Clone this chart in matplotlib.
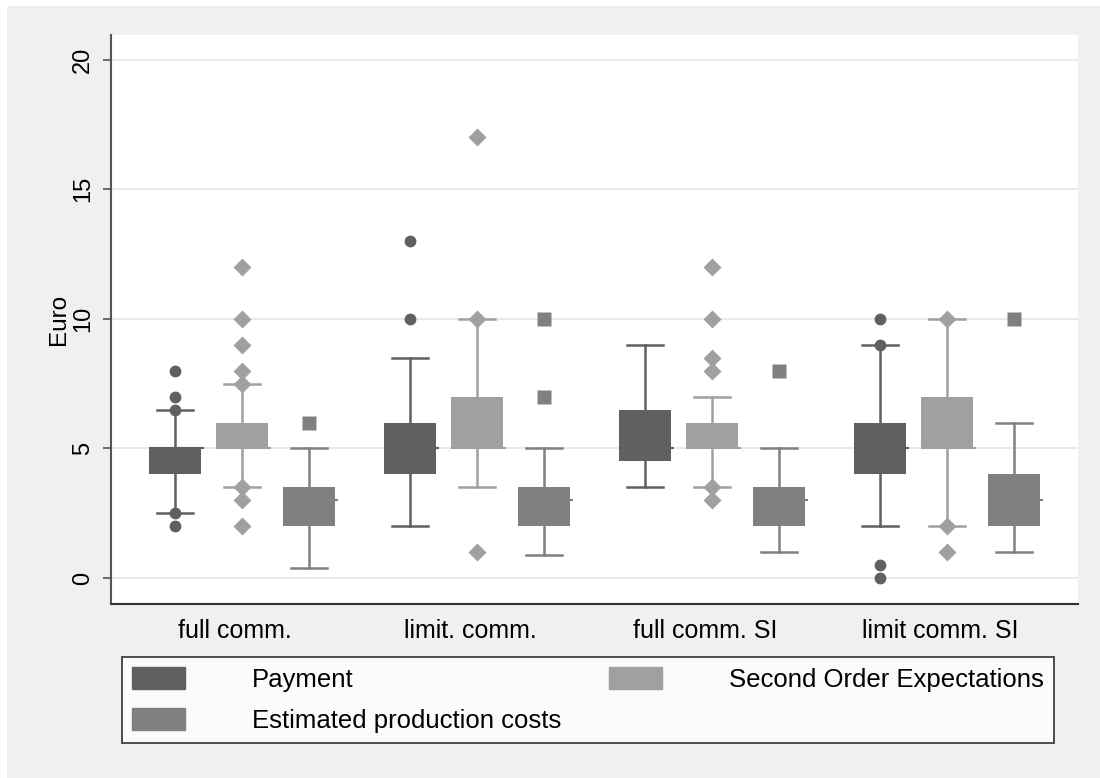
import numpy as np
import matplotlib
matplotlib.use("Agg")
import matplotlib.pyplot as plt
from matplotlib.patches import Patch, Rectangle

plt.rcParams['font.family'] = ['Liberation Sans', 'DejaVu Sans']

####### categories and series
groups = ["full comm.", "limit. comm.", "full comm. SI", "limit comm. SI"]
series = ["Payment", "Second Order Expectations", "Estimated production costs"]

####### Payment
pay_q1 = [4, 4, 4.5, 4]
pay_med = [5, 5, 5, 5]
pay_q3 = [5, 6, 6.5, 6]
pay_lo = [2.5, 2, 3.5, 2]
pay_hi = [6.5, 8.5, 9, 9]
pay_out = [[8, 7, 6.5, 2.5, 2], [13, 10], [], [10, 9, 0.5, 0]]

####### Second Order Expectations
soe_q1 = [5, 5, 5, 5]
soe_med = [5, 5, 5, 5]
soe_q3 = [6, 7, 6, 7]
soe_lo = [3.5, 3.5, 3.5, 2]
soe_hi = [7.5, 10, 7, 10]
soe_out = [[12, 10, 9, 8, 7.5, 3.5, 3, 2], [17, 10, 1], [12, 10, 8.5, 8, 3.5, 3], [10, 2, 1]]

####### Estimated production costs
epc_q1 = [2, 2, 2, 2]
epc_med = [3, 3, 3, 3]
epc_q3 = [3.5, 3.5, 3.5, 4]
epc_lo = [0.4, 0.9, 1, 1]
epc_hi = [5, 5, 5, 6]
epc_out = [[6], [10, 7], [8], [10]]

data = [
    (pay_q1, pay_med, pay_q3, pay_lo, pay_hi, pay_out),
    (soe_q1, soe_med, soe_q3, soe_lo, soe_hi, soe_out),
    (epc_q1, epc_med, epc_q3, epc_lo, epc_hi, epc_out),
]
colors = ['#606060', '#a0a0a0', '#808080']
markers = [('o', 8.5), ('D', 9.5), ('s', 9.5)]

fig = plt.figure(figsize=(11, 7.78), dpi=100)
fig.patch.set_facecolor('white')
fig.patches.append(Rectangle((7/1100, 0), 1, (778-6)/778, transform=fig.transFigure,
                             facecolor='#f0f0f0', edgecolor='none', zorder=-10))
ax = fig.add_axes([111/1100, (778-604)/778, 967/1100, (604-35)/778])

centers = np.arange(1, len(groups)+1)
offset = 0.285
width = 0.221

for k, (q1, med, q3, lo, hi, out) in enumerate(data):
    stats = []
    for i in range(len(groups)):
        stats.append(dict(q1=q1[i], med=med[i], q3=q3[i], whislo=lo[i], whishi=hi[i],
                          fliers=out[i]))
    pos = centers + (k-1)*offset
    c = colors[k]
    bp = ax.bxp(stats, positions=pos, widths=width, patch_artist=True,
                capwidths=width*0.69,
                boxprops=dict(facecolor=c, edgecolor=c, linewidth=0),
                medianprops=dict(color=c, linewidth=1.5),
                whiskerprops=dict(color=c, linewidth=1.8),
                capprops=dict(color=c, linewidth=1.8),
                flierprops=dict(marker=markers[k][0], markersize=markers[k][1],
                                markerfacecolor=c, markeredgecolor='none'),
                manage_ticks=False)
    for ln, p in zip(bp['medians'], pos):
        ln.set_xdata([p - width/2, p + width/2 + 0.012])
    for b in bp['boxes']:
        b.set_zorder(2)
    for f in bp['fliers']:
        f.set_zorder(4)

ax.set_xlim(0.443, 4.557)
ax.set_ylim(-1, 20.95)
ax.set_yticks([0, 5, 10, 15, 20])
ax.set_xticks(centers - 0.03)
ax.set_xticklabels(groups, fontsize=18)
ax.tick_params(axis='x', length=0, pad=11)
ax.tick_params(axis='y', length=6, width=1.2, color='#555555', pad=6, labelsize=17)
for t in ax.get_yticklabels():
    t.set_rotation(90)
    t.set_va('center')
ax.yaxis.grid(True, color='#eaeaea', linewidth=1.5)
ax.set_axisbelow(True)
for s in ['top', 'right']:
    ax.spines[s].set_visible(False)
ax.spines['left'].set_color('#555555')
ax.spines['bottom'].set_color('#333333')
ax.spines['left'].set_linewidth(1.5)
ax.spines['bottom'].set_linewidth(1.5)
ax.set_ylabel('Euro', fontsize=17.5, labelpad=2)

handles = [Patch(facecolor=colors[0], edgecolor=colors[0]),
           Patch(facecolor=colors[2], edgecolor=colors[2]),
           Patch(facecolor=colors[1], edgecolor=colors[1])]
labels = [series[0], series[2], series[1]]
leg = fig.legend(handles, labels, loc='upper left',
                 bbox_to_anchor=(122/1100, (778-657)/778), ncol=2,
                 fontsize=18.5, frameon=True, fancybox=False, handlelength=2.05,
                 handleheight=0.93, handletextpad=2.6, columnspacing=1.87,
                 labelspacing=0.62, borderpad=0.4, borderaxespad=0)
leg.get_frame().set_edgecolor('black')
leg.get_frame().set_linewidth(1.2)

fig.savefig('out.png', dpi=100, facecolor=fig.get_facecolor())
